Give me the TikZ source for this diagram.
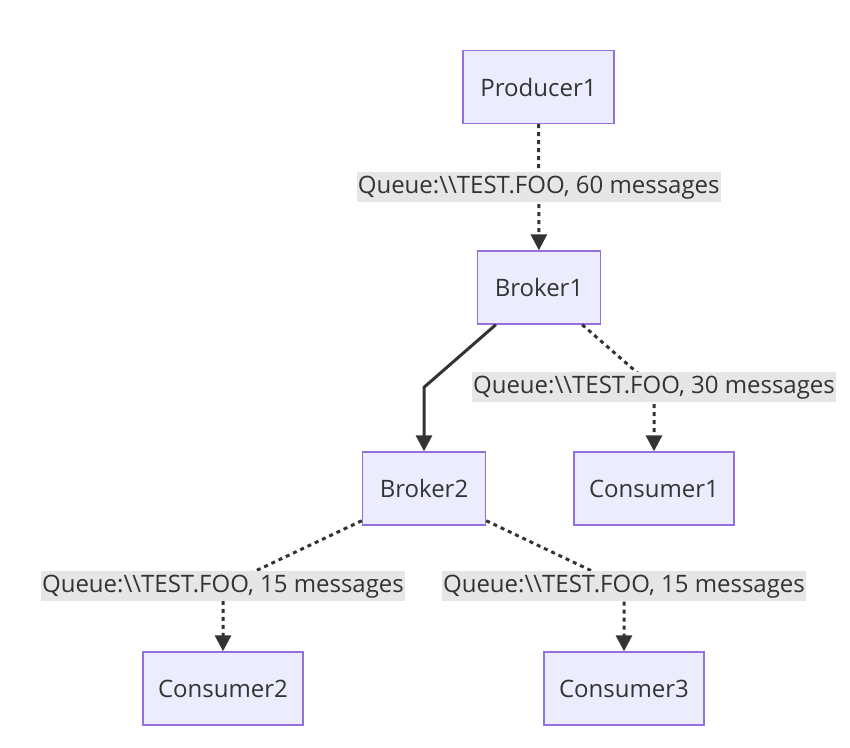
\documentclass[tikz,border=0pt]{standalone}
\usepackage{fontspec}
\setmainfont{Open Sans}
\usetikzlibrary{arrows.meta}
\definecolor{nodefill}{HTML}{ECECFF}
\definecolor{nodeline}{HTML}{9370DB}
\definecolor{edgecol}{HTML}{333333}
\definecolor{lblfill}{HTML}{E6E6E6}
\begin{document}
\begin{tikzpicture}[x=1pt,y=-1pt,font=\fontsize{24}{28}\selectfont,
box/.style={draw=nodeline,fill=nodefill,line width=1.4pt,text=edgecol,minimum height=73pt,inner sep=0pt},
lbl/.style={fill=lblfill,text=edgecol,inner xsep=1pt,inner ysep=0pt,minimum height=30pt},
flow/.style={draw=edgecol,line width=3pt,-{Triangle[length=16pt,width=16pt]}},
dots/.style={flow,dash pattern=on 4pt off 4pt}]
\useasboundingbox (0,0) rectangle (850,747);
\node[box,minimum width=151pt] (p1) at (538.5,87){Producer1};
\node[box,minimum width=123pt] (b1) at (539,287.5){Broker1};
\node[box,minimum width=123pt] (b2) at (424,488.5){Broker2};
\node[box,minimum width=160pt] (c1) at (654,488.5){Consumer1};
\node[box,minimum width=160pt] (c2) at (223,688.5){Consumer2};
\node[box,minimum width=160pt] (c3) at (624,688.5){Consumer3};
\draw[dots] (p1) -- node[lbl]{Queue:\textbackslash\textbackslash TEST.FOO, 60 messages} (b1);
\draw[flow] ([xshift=19pt]b1.south west) -- ([yshift=64pt]b2.north) -- (b2);
\draw[dots] ([xshift=-19pt]b1.south east) -- ([yshift=64pt]c1.north) node[lbl]{Queue:\textbackslash\textbackslash TEST.FOO, 30 messages} -- (c1);
\draw[dots] ([yshift=5pt]b2.south west) -- ([yshift=65pt]c2.north) node[lbl]{Queue:\textbackslash\textbackslash TEST.FOO, 15 messages} -- (c2);
\draw[dots] ([yshift=5pt]b2.south east) -- ([yshift=65pt]c3.north) node[lbl]{Queue:\textbackslash\textbackslash TEST.FOO, 15 messages} -- (c3);
\end{tikzpicture}
\end{document}
